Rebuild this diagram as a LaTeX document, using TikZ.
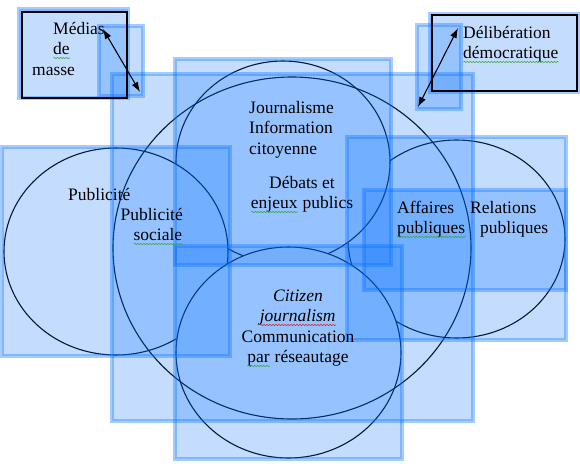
\documentclass[tikz,border=0pt]{standalone}
\usepackage{fontspec}
\setmainfont{Liberation Serif}
\usetikzlibrary{arrows.meta,shapes.geometric,decorations.pathmorphing}
\definecolor{selblue}{RGB}{0,110,255}
\definecolor{spellgreen}{RGB}{60,165,60}
\definecolor{spellred}{RGB}{215,40,40}
% spell-check waves under single words
\newsavebox{\sqbox}
\newcommand{\sqword}[2]{\sbox{\sqbox}{#2}\rlap{\usebox{\sqbox}}\tikz[baseline=0pt]\draw[#1,line width=.6pt,decorate,decoration={snake,amplitude=.6pt,segment length=3pt}] (0pt,-3.5pt) -- (\the\wd\sqbox,-3.5pt);}
\newcommand{\gsq}[1]{\sqword{spellgreen}{#1}}
\newcommand{\rsq}[1]{\sqword{spellred}{#1}}

\begin{document}
\begin{tikzpicture}[x=1pt,y=-1pt,
  >={Latex[length=10pt,width=7pt]},
  ring/.style={ellipse,draw=black,line width=1.1pt,fill=white,inner sep=0pt,outer sep=0pt},
  hollow/.style={ring,fill=none},
  box/.style={rectangle,draw=black,line width=1.2pt,inner sep=0pt},
  txt/.style={font=\fontsize{17.5}{20.5}\selectfont,inner sep=0pt},
  sel/.style={fill=selblue,fill opacity=.23,draw=selblue,draw opacity=.35,line width=4pt},
  dbl/.style={<->,line width=1.1pt}
]
\useasboundingbox (0,0) rectangle (580,463);

% ellipses, back to front (white fill hides the outlines below)
\node[ring,minimum width=217pt,minimum height=198pt] (rel) at (456.5,239) {};
\node[ring,minimum width=214pt,minimum height=202pt] (jour) at (283,162) {};
\node[ring,minimum width=224pt,minimum height=207pt] (pub) at (116,251.5) {};
\node[ring,minimum width=225pt,minimum height=211pt] (cit) at (288.5,352.5) {};
\node[hollow,minimum width=358pt,minimum height=342pt] (big) at (292,248) {};

% selection frames over every object
\path[sel] (19,9) rectangle (128,98);     % med
\path[sel] (99,26) rectangle (143,96);    % med arrow
\path[sel] (112,74) rectangle (473,421);  % big
\path[sel] (175,59) rectangle (391,265);  % jour
\path[sel] (2,147) rectangle (230,356);   % pub
\path[sel] (347,137) rectangle (566,340); % rel
\path[sel] (175,246) rectangle (402,459); % cit
\path[sel] (364,190) rectangle (566,290); % aff
\path[sel] (430,14) rectangle (578,92);   % del
\path[sel] (417,25) rectangle (461,109);  % del arrow

% framed boxes in the corners
\node[box,minimum width=105pt,minimum height=86pt] (med) at (74.5,55) {};
\node[box,minimum width=145pt,minimum height=76pt] (del) at (504.5,53) {};

% texts (base = baseline of the last line)
\node[txt,anchor=base west,align=left] (medTxt) at (32,75) {\hspace*{21pt}Médias\\\hspace*{21pt}\gsq{de}\\masse};
\node[txt,anchor=base west,align=left] (delTxt) at (463,58.5) {Délibération\\\gsq{démocratique}};
\node[txt,anchor=base west,align=left] (jourTxt) at (249,154) {Journalisme\\Information\\citoyenne};
\node[txt,anchor=base,align=center] (debTxt) at (302,208.5) {Débats et\\\gsq{enjeux} publics};
\node[txt,anchor=base west] (pubTxt) at (68,200) {Publicité};
\node[txt,anchor=base east,align=right] (psocTxt) at (183,240.5) {Publicité\\\gsq{sociale}};
\node[txt,anchor=base west,align=left] (affTxt) at (397,233.5) {Affaires\\\gsq{publiques}};
\node[txt,anchor=base west,align=left] (relTxt) at (470,233.5) {Relations\\\hspace*{10pt}publiques};
\node[txt,anchor=base,align=center] (citTxt) at (298,362.5) {\textit{Citizen}\\\rsq{\textit{journalism}}\hspace*{20pt}\\Communication\\\gsq{par} réseautage};

% double arrows from the corner boxes
\coordinate (medA) at (103,29);
\coordinate (medB) at (140,92);
\coordinate (delA) at (458,28);
\coordinate (delB) at (418,107);
\draw[dbl] (medA) -- (medB);
\draw[dbl] (delA) -- (delB);

\end{tikzpicture}
\end{document}
